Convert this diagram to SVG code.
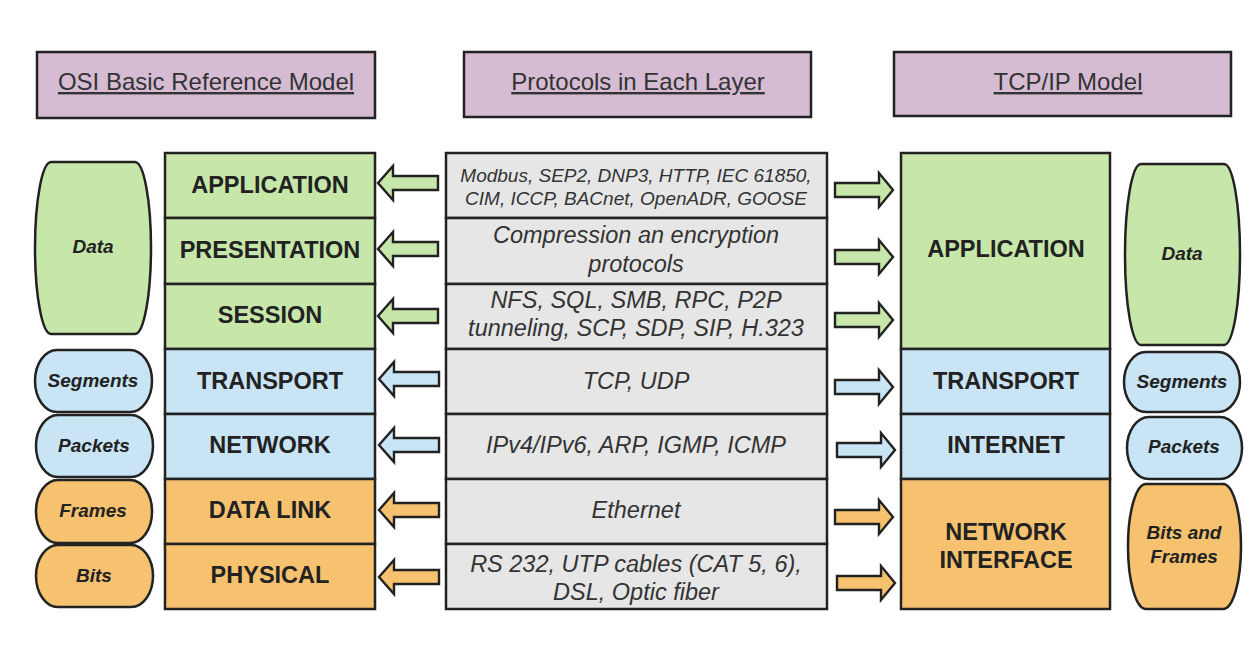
<svg xmlns="http://www.w3.org/2000/svg" xmlns:xlink="http://www.w3.org/1999/xlink" width="1254" height="662" viewBox="0 0 1254 662">
<style>
.hdr{fill:#d5bcd3;stroke:#222;stroke-width:2.5}
.ht{font-family:"Liberation Sans",Arial,sans-serif;font-size:24px;fill:#333;text-anchor:middle;text-decoration:underline}
.g{fill:#c7e6a9}
.b{fill:#c8e4f5}
.o{fill:#f6c26f}
.m{fill:#e6e6e6}
.box{stroke:#222;stroke-width:2.5}
.lbl{font-family:"Liberation Sans",Arial,sans-serif;font-weight:bold;font-size:23.5px;fill:#222;text-anchor:middle}
.mt{font-family:"Liberation Sans",Arial,sans-serif;font-style:italic;font-size:23.5px;fill:#333;text-anchor:middle}
.ms{font-size:19px}
.pt{font-family:"Liberation Sans",Arial,sans-serif;font-style:italic;font-weight:bold;font-size:19px;fill:#222;text-anchor:middle}
.arr{stroke:#222;stroke-width:2.4;stroke-linejoin:miter}
</style>
<defs>
<path id="arrL" d="M0,0 L15,-17 L15,-7 L60,-7 L60,7 L15,7 L15,17 Z"/>
<path id="arrR" d="M0,0 L-14,-17 L-14,-7 L-58,-7 L-58,7 L-14,7 L-14,17 Z"/>
</defs>
<rect width="1254" height="662" fill="#ffffff"/>

<g id="hdr-osi"><rect class="hdr" x="37" y="52" width="338" height="66"/><text class="ht" x="206" y="90">OSI Basic Reference Model</text></g>
<g id="hdr-proto"><rect class="hdr" x="464" y="52" width="347" height="65"/><text class="ht" x="638" y="90">Protocols in Each Layer</text></g>
<g id="hdr-tcp"><rect class="hdr" x="894" y="52" width="337" height="64"/><text class="ht" x="1068" y="90">TCP/IP Model</text></g>

<g id="osi-application"><rect class="box g" x="165" y="153" width="210" height="65"/><text class="lbl" x="270" y="192.5">APPLICATION</text></g>
<g id="osi-presentation"><rect class="box g" x="165" y="218" width="210" height="66"/><text class="lbl" x="270" y="257.5">PRESENTATION</text></g>
<g id="osi-session"><rect class="box g" x="165" y="284" width="210" height="65"/><text class="lbl" x="270" y="322.5">SESSION</text></g>
<g id="osi-transport"><rect class="box b" x="165" y="349" width="210" height="65"/><text class="lbl" x="270" y="388.5">TRANSPORT</text></g>
<g id="osi-network"><rect class="box b" x="165" y="414" width="210" height="65"/><text class="lbl" x="270" y="452.5">NETWORK</text></g>
<g id="osi-datalink"><rect class="box o" x="165" y="479" width="210" height="65"/><text class="lbl" x="270" y="517.5">DATA LINK</text></g>
<g id="osi-physical"><rect class="box o" x="165" y="544" width="210" height="65"/><text class="lbl" x="270" y="582.5">PHYSICAL</text></g>

<g id="proto-application"><rect class="box m" x="446" y="153" width="381" height="65"/><text class="mt ms" x="636" y="182">Modbus, SEP2, DNP3, HTTP, IEC 61850,</text><text class="mt ms" x="636" y="205">CIM, ICCP, BACnet, OpenADR, GOOSE</text></g>
<g id="proto-presentation"><rect class="box m" x="446" y="218" width="381" height="66"/><text class="mt" x="636" y="243">Compression an encryption</text><text class="mt" x="636" y="272">protocols</text></g>
<g id="proto-session"><rect class="box m" x="446" y="284" width="381" height="65"/><text class="mt" x="636" y="308">NFS, SQL, SMB, RPC, P2P</text><text class="mt" x="636" y="336">tunneling, SCP, SDP, SIP, H.323</text></g>
<g id="proto-transport"><rect class="box m" x="446" y="349" width="381" height="65"/><text class="mt" x="636" y="388.5">TCP, UDP</text></g>
<g id="proto-network"><rect class="box m" x="446" y="414" width="381" height="65"/><text class="mt" x="636" y="452.5">IPv4/IPv6, ARP, IGMP, ICMP</text></g>
<g id="proto-datalink"><rect class="box m" x="446" y="479" width="381" height="65"/><text class="mt" x="636" y="517.5">Ethernet</text></g>
<g id="proto-physical"><rect class="box m" x="446" y="544" width="381" height="65"/><text class="mt" x="636" y="571.5">RS 232, UTP cables (CAT 5, 6),</text><text class="mt" x="636" y="600">DSL, Optic fiber</text></g>

<g id="tcp-application"><rect class="box g" x="901" y="153" width="209" height="196"/><text class="lbl" x="1006" y="256.5">APPLICATION</text></g>
<g id="tcp-transport"><rect class="box b" x="901" y="349" width="209" height="65"/><text class="lbl" x="1006" y="388.5">TRANSPORT</text></g>
<g id="tcp-internet"><rect class="box b" x="901" y="414" width="209" height="65"/><text class="lbl" x="1006" y="452.5">INTERNET</text></g>
<g id="tcp-netif"><rect class="box o" x="901" y="479" width="209" height="130"/><text class="lbl" x="1006" y="539.5">NETWORK</text><text class="lbl" x="1006" y="567.5">INTERFACE</text></g>

<g id="pill-l-data"><rect class="box g" x="35" y="162" width="116" height="172" rx="16" ry="86"/><text class="pt" x="93" y="252.5">Data</text></g>
<g id="pill-l-segments"><rect class="box b" x="35" y="350" width="117" height="62" rx="22" ry="31"/><text class="pt" x="93" y="386.5">Segments</text></g>
<g id="pill-l-packets"><rect class="box b" x="36" y="415" width="117" height="62" rx="22" ry="31"/><text class="pt" x="94" y="451.5">Packets</text></g>
<g id="pill-l-frames"><rect class="box o" x="36" y="480" width="116" height="63" rx="22" ry="31"/><text class="pt" x="93" y="516.5">Frames</text></g>
<g id="pill-l-bits"><rect class="box o" x="36" y="545" width="117" height="62" rx="22" ry="31"/><text class="pt" x="94" y="581.5">Bits</text></g>

<g id="pill-r-data"><rect class="box g" x="1125" y="164" width="115" height="181" rx="16" ry="90"/><text class="pt" x="1182" y="259.5">Data</text></g>
<g id="pill-r-segments"><rect class="box b" x="1124" y="352" width="116" height="60" rx="22" ry="30"/><text class="pt" x="1182" y="387.5">Segments</text></g>
<g id="pill-r-packets"><rect class="box b" x="1127" y="417" width="115" height="62" rx="22" ry="31"/><text class="pt" x="1184" y="452.5">Packets</text></g>
<g id="pill-r-bits"><rect class="box o" x="1128" y="484" width="113" height="125" rx="18" ry="62"/><text class="pt" x="1184" y="538.5">Bits and</text><text class="pt" x="1184" y="562.5">Frames</text></g>

<g id="connectors">
<use xlink:href="#arrL" class="arr g" x="378" y="183"/>
<use xlink:href="#arrL" class="arr g" x="378" y="249"/>
<use xlink:href="#arrL" class="arr g" x="378" y="316"/>
<use xlink:href="#arrL" class="arr b" x="379" y="379"/>
<use xlink:href="#arrL" class="arr b" x="379" y="445"/>
<use xlink:href="#arrL" class="arr o" x="379" y="510"/>
<use xlink:href="#arrL" class="arr o" x="379" y="577"/>
<use xlink:href="#arrR" class="arr g" x="893" y="190"/>
<use xlink:href="#arrR" class="arr g" x="893" y="257"/>
<use xlink:href="#arrR" class="arr g" x="893" y="320"/>
<use xlink:href="#arrR" class="arr b" x="893" y="387"/>
<use xlink:href="#arrR" class="arr b" x="895" y="450"/>
<use xlink:href="#arrR" class="arr o" x="893" y="517"/>
<use xlink:href="#arrR" class="arr o" x="895" y="583"/>
</g>
</svg>
